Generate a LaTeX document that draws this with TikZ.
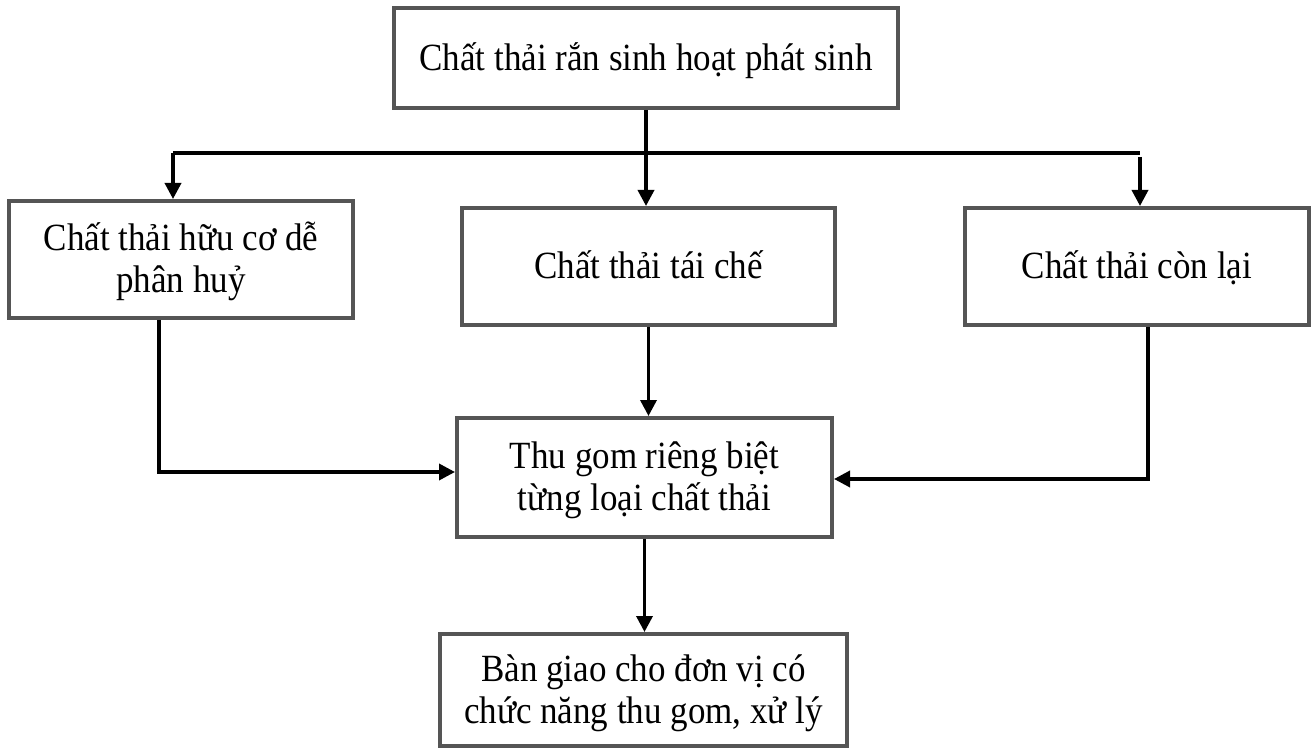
\documentclass[tikz,border=0pt]{standalone}
\usepackage{fontspec}
\usepackage{graphicx}
\setmainfont{Liberation Serif}
\usetikzlibrary{arrows.meta}
\definecolor{boxline}{RGB}{85,85,85}
% box text: centred lines, set slightly tall and a little low in the box
\newcommand\boxtext[1]{\raisebox{-4pt}[\height][\depth]{%
  \scalebox{1}[1.1]{\begin{tabular}{@{}c@{}}#1\end{tabular}}}}
\begin{document}
\begin{tikzpicture}[x=1pt,y=-1pt,
  box/.style={draw=boxline, line width=4pt, inner sep=0pt,
    font=\fontsize{35}{38}\selectfont, text=black},
  link/.style={line width=3.5pt, draw=black},
  arr/.style={link, -{Triangle[length=16pt,width=16pt]}}]
\useasboundingbox (0,0) rectangle (1312,751);

% boxes
\node[box, minimum width=504pt, minimum height=100pt] (top) at (646,58)
  {\boxtext{Chất thải rắn sinh hoạt phát sinh}};
\node[box, minimum width=344pt, minimum height=117pt] (left) at (181,259.5)
  {\boxtext{Chất thải hữu cơ dễ\\phân huỷ}};
\node[box, minimum width=373pt, minimum height=117pt] (mid) at (648.5,266.5)
  {\boxtext{Chất thải tái chế}};
\node[box, minimum width=344pt, minimum height=117pt] (right) at (1137,266.5)
  {\boxtext{Chất thải còn lại}};
\node[box, minimum width=375pt, minimum height=119pt] (collect) at (644.5,477.5)
  {\boxtext{Thu gom riêng biệt\\từng loại chất thải}};
\node[box, minimum width=407pt, minimum height=112pt] (hand) at (643.5,690)
  {\boxtext{Bàn giao cho đơn vị có\\chức năng thu gom, xử lý}};

% distribution bar
\coordinate (jl) at (173,153);
\coordinate (jr) at (1140,153);
\draw[link] (jl) -- (jr);
\draw[arr] (top.south) -- (top.south |- mid.north);
\draw[arr] (jl) -- (jl |- left.north);
\draw[arr] ([yshift=-4pt]jr) -- (jr |- right.north);

% into collection
\draw[arr] ([xshift=-22pt]left.south) |- ([yshift=5.5pt]collect.west);
\draw[arr] (mid.south) -- (mid.south |- collect.north);
\draw[arr] ([xshift=11pt]right.south) |- ([yshift=-1.5pt]collect.east);

% hand over
\draw[arr] (collect.south) -- (collect.south |- hand.north);
\end{tikzpicture}
\end{document}
